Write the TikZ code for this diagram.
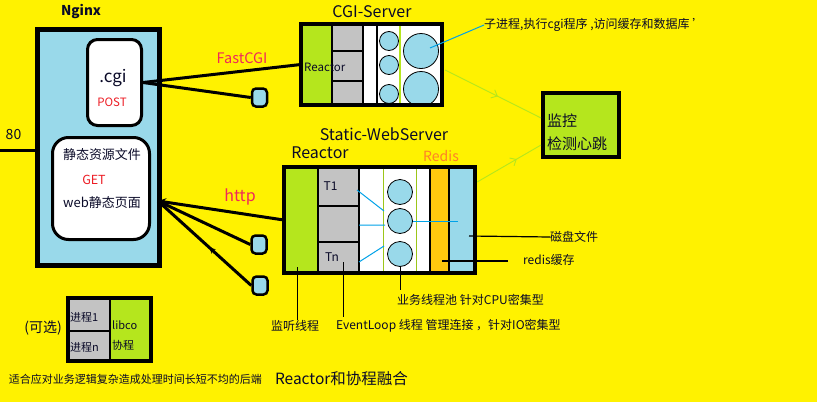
\documentclass[tikz,border=0pt]{standalone}
\usepackage{fontspec}
\setmainfont{Noto Sans CJK SC}
\usetikzlibrary{decorations.markings,arrows.meta,calc}
\definecolor{bgy}{RGB}{255,242,0}
\definecolor{lb}{RGB}{153,217,234}
\definecolor{lg}{RGB}{181,230,29}
\definecolor{gr}{RGB}{195,195,195}
\definecolor{og}{RGB}{255,201,14}
\definecolor{pk}{RGB}{240,40,90}
\definecolor{rd}{RGB}{237,28,36}
\definecolor{ro}{RGB}{255,127,39}
\definecolor{bl}{RGB}{0,162,232}
\definecolor{tx}{RGB}{10,10,40}
\newcommand{\fsz}[1]{\fontsize{#1}{#1}\selectfont}
\begin{document}
\begin{tikzpicture}[x=1pt,y=-1pt,
  txt/.style={inner sep=0pt, text=tx},
  bd/.style={line width=4pt},
  thinln/.style={line width=1.3pt},
  conn/.style={line width=3pt},
  circ/.style={circle, draw, fill=lb, line width=0.8pt, inner sep=0pt, minimum size=#1},
  sbox/.style={draw, line width=2.5pt, fill=lb, rounded corners=4pt, inner sep=0pt, minimum width=15, minimum height=18},
  rbox/.style={draw, line width=3pt, fill=white, inner sep=0pt},
  bluel/.style={bl, line width=1pt},
  greenarr/.style={lg, line width=0.9pt, postaction={decorate}, decoration={markings, mark=at position #1 with {\arrow{Straight Barb[length=5pt,width=9pt]}}}}
]
\fill[bgy] (0,0) rectangle (817,402);
\useasboundingbox (0,0) rectangle (817,402);

% ---------- Nginx ----------
\node[draw, line width=5pt, fill=lb, minimum width=122, minimum height=236, inner sep=0pt] (ngx) at (98.5,147.5) {};
\node[txt, font=\fsz{13.5}\bfseries] (ngxt) at (81,12) {Nginx};
\node[rbox, rounded corners=10pt, minimum width=54, minimum height=86] (cgib) at (114.5,82.5) {};
\node[txt, font=\fsz{17}] (cgit) at (113,78) {.cgi};
\node[txt, text=rd, font=\fsz{11.5}] (post) at (112,102) {POST};
\node[rbox, rounded corners=16pt, minimum width=97, minimum height=102] (stb) at (101,188.5) {};
\node[txt, font=\fsz{13}] (st1) at (102,155) {静态资源文件};
\node[txt, text=rd, font=\fsz{12.5}] (get) at (94,180) {GET};
\node[txt, font=\fsz{13}] (st2) at (102,203) {web静态页面};

\node[txt, font=\fsz{14}] (p80t) at (13.5,135) {80};
\coordinate (p80) at (0,150);
\draw[conn] (p80) -- (p80 -| ngx.west);

% ---------- CGI-Server ----------
\node[txt, font=\fsz{16}] (cgist) at (372,12) {CGI-Server};
\node[fill=white, minimum width=141, minimum height=81, inner sep=0pt] (cgis) at (371.5,64.5) {};
\fill[lg] (301,22) rectangle (332,107);
\fill[gr] (332,22) rectangle (363,107);
\draw[thinln] (332,22) -- (332,107) (363,22) -- (363,107) (377,22) -- (377,107)
  (332,51) -- (363,51) (332,81) -- (363,81);
\node[circ=19] (c1) at (389,41) {};
\node[circ=19] (c2) at (389,65) {};
\node[circ=19] (c3) at (389,94) {};
\draw[lg, line width=1.2pt] (400,22) -- (400,107);
\node[circ=35] (bc1) at (421,51) {};
\node[circ=35] (bc2) at (421,89) {};
\draw[bd] (cgis.north west) rectangle (cgis.south east);
\node[txt, font=\fsz{11.5}, anchor=west] (react1) at (304,67) {Reactor};

\node[txt, font=\fsz{12}, anchor=west] (sub) at (484,25) {子进程,执行cgi程序 ,访问缓存和数据库 '};
\draw[bluel] ($(bc1.center)+(9,-3)$) -- (sub.west);

% FastCGI
\node[txt, text=pk, font=\fsz{14.5}] (fcgi) at (242,58) {FastCGI};
\node[sbox] (sb1) at (259.5,97.5) {};
\draw[conn] (cgib.east) -- (cgis.west);
\draw[conn] (cgib.east) -- (sb1.west);

% ---------- monitor ----------
\node[draw, line width=4pt, fill=lg, minimum width=76, minimum height=64, inner sep=0pt] (mon) at (581,125) {};
\node[txt, font=\fsz{15}, anchor=west] (mon1) at (547,121) {监控};
\node[txt, font=\fsz{15}, anchor=west] (mon2) at (547,144) {检测心跳};
\coordinate (ma1) at (541,118);
\coordinate (ma2) at (541,145);
\draw[greenarr=0.55] ($(cgis.east)+(3,5.5)$) -- (ma1);

% ---------- Static-WebServer ----------
\node[txt, font=\fsz{16}] (swst) at (384,134) {Static-WebServer};
\node[txt, font=\fsz{16}] (react2) at (320,153) {Reactor};
\node[txt, text=ro, font=\fsz{14}] (redis) at (441,156) {Redis};
\node[fill=white, minimum width=191, minimum height=106, inner sep=0pt] (sws) at (379.5,220) {};
\fill[lg] (284,167) rectangle (318,273);
\fill[gr] (318,167) rectangle (359,273);
\fill[og] (430,167) rectangle (449,273);
\fill[lb] (449,167) rectangle (475,273);
\draw[thinln] (318,167) -- (318,273) (359,167) -- (359,273) (430,167) -- (430,273) (449,167) -- (449,273)
  (318,206) -- (359,206) (318,242) -- (359,242);
\draw[lg!80!black!70!lg, line width=1pt] (383,167) rectangle (416,273);
\node[circ=25] (s1) at (400,192) {};
\node[circ=25] (s2) at (400,221) {};
\node[circ=25] (s3) at (400,254) {};
\draw[bd] (sws.north west) rectangle (sws.south east);
\node[txt, font=\fsz{12}] (t1) at (330.5,186) {T1};
\node[txt, font=\fsz{12}] (tn) at (332,257) {Tn};

\coordinate (b1a) at (357,190); \coordinate (b1b) at (384,211);
\coordinate (b2a) at (359,225); \coordinate (b2b) at (385,225);
\coordinate (b3a) at (359,262); \coordinate (b3b) at (384,246);
\coordinate (b4b) at (458,221);
\draw[bluel] (b1a) -- (b1b) (b2a) -- (b2b) (b3a) -- (b3b);
\draw[bluel] (s2.east) -- (b4b);

\draw[greenarr=0.62] ($(sws.east)+(2,-38)$) -- (ma2);

% right labels
\node[txt, font=\fsz{12}, anchor=west] (disk) at (550,237) {磁盘文件};
\coordinate (dk) at (469,236);
\draw[line width=1.2pt] (dk) -- (disk.west);
\node[txt, font=\fsz{12}, anchor=west] (rc) at (523,260) {redis缓存};
\coordinate (rca) at (442,261); \coordinate (rcb) at (508,261);
\draw[line width=1.2pt] (rca) -- (rcb);

% bottom labels
\node[txt, font=\fsz{12}] (lst) at (295,326) {监听线程};
\coordinate (lsa) at (297,267);
\draw[line width=1pt] (lsa) -- (lsa |- lst.north);
\node[txt, font=\fsz{12}, anchor=west] (evl) at (336,326) {EventLoop 线程 管理连接 ，针对IO密集型};
\coordinate (eva) at (343,262); \coordinate (evb) at (343,317);
\draw[line width=1pt] (eva) -- (evb);
\node[txt, font=\fsz{12}, anchor=west] (pool) at (397,300) {业务线程池 针对CPU密集型};
\coordinate (pb) at (400,290);
\draw[line width=1pt] (s3.south) -- (pb);

% http
\node[txt, text=pk, font=\fsz{16}] (http) at (240,197) {http};
\coordinate (hj) at (158,201);
\node[sbox] (sb2) at (259,244.5) {};
\node[sbox] (sb3) at (260,285.5) {};
\draw[conn, -{Stealth[length=8pt,width=8pt]}] (sws.west) -- (hj);
\draw[conn] (hj) -- (sb2.west);
\draw[conn, postaction={decorate}, decoration={markings, mark=at position 0.45 with {\arrow{Stealth[length=6pt,width=6pt]}}}] (sb3.west) -- (hj);

% ---------- bottom-left ----------
\node[fill=white, minimum width=83, minimum height=63, inner sep=0pt] (co) at (109.5,329.5) {};
\fill[gr] (68,298) rectangle (110,361);
\fill[lg] (110,298) rectangle (151,361);
\draw[thinln] (110,298) -- (110,361) (68,331) -- (110,331);
\draw[bd] (co.north west) rectangle (co.south east);
\node[txt, font=\fsz{11}, anchor=west] (pr1) at (70,317) {进程1};
\node[txt, font=\fsz{11}, anchor=west] (prn) at (70,347) {进程n};
\node[txt, font=\fsz{11}, anchor=west] (libco) at (112,325) {libco};
\node[txt, font=\fsz{11}, anchor=west] (xc) at (112,345) {协程};
\node[txt, font=\fsz{14}] (opt) at (43,328) {(可选)};
\node[txt, font=\fsz{11}] (desc) at (135.5,379) {适合应对业务逻辑复杂造成处理时间长短不均的后端};
\node[txt, font=\fsz{15.5}] (fuse) at (341.5,379) {Reactor和协程融合};
\end{tikzpicture}
\end{document}
